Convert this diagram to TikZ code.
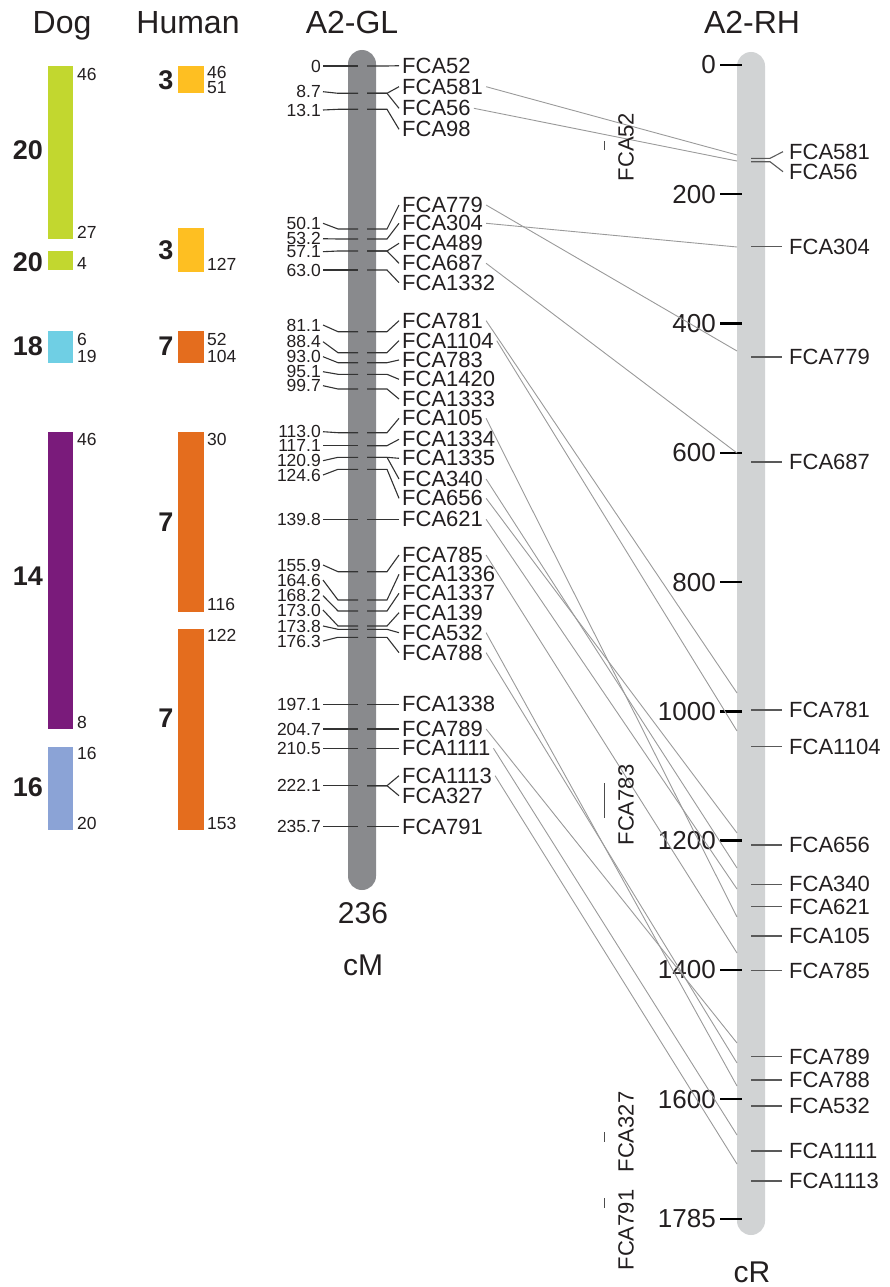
\documentclass[tikz,border=0pt]{standalone}
\usepackage{fontspec}
\setmainfont{Liberation Sans}
\definecolor{txt}{HTML}{231F20}
\definecolor{dgreen}{HTML}{C2D72F}
\definecolor{dcyan}{HTML}{6FCFE4}
\definecolor{dpurple}{HTML}{7A1B7B}
\definecolor{dblue}{HTML}{8BA3D6}
\definecolor{hyellow}{HTML}{FEBF22}
\definecolor{horange}{HTML}{E46D1E}
\definecolor{glgray}{HTML}{898A8D}
\definecolor{rhgray}{HTML}{D1D3D4}
\definecolor{conncol}{HTML}{9A9A9A}
\begin{document}
\begin{tikzpicture}[x=1pt,y=-1pt,
  title/.style={font=\fontsize{32}{32}\selectfont, text=txt, inner sep=0pt, anchor=base},
  big/.style={font=\fontsize{30}{30}\selectfont, text=txt, inner sep=0pt},
  chrnum/.style={font=\fontsize{27}{27}\selectfont\bfseries, text=txt, inner sep=0pt},
  num/.style={font=\fontsize{17.5}{17.5}\selectfont, text=txt, inner sep=0pt, anchor=west},
  fca/.style={font=\fontsize{22}{22}\selectfont, text=txt, inner sep=0pt, anchor=west},
  cml/.style={font=\fontsize{17.5}{17.5}\selectfont, text=txt, inner sep=0pt, anchor=east},
  scl/.style={font=\fontsize{26}{26}\selectfont, text=txt, inner sep=0pt, anchor=east},
  rot/.style={font=\fontsize{22}{22}\selectfont, text=txt, inner sep=0pt, rotate=90},
  gtick/.style={draw=black!80, line width=1.1pt},
  rtick/.style={draw=black!65, line width=1.1pt},
  stick/.style={draw=black, line width=2.4pt},
  conn/.style={draw=conncol, line width=0.9pt},
  ovl/.style={draw=black!70, line width=0.9pt}]
\useasboundingbox (0,0) rectangle (889,1287);

% titles
\node[title] (tdog) at (62,34) {Dog};
\node[title] (thum) at (188,34) {Human};
\node[title] (tgl) at (352,34) {A2-GL};
\node[title] (trh) at (752,34) {A2-RH};

% dog blocks
\fill[dgreen] (48,66) rectangle (73,239);
\fill[dgreen] (48,251) rectangle (73,270);
\fill[dcyan] (48,331) rectangle (73,363);
\fill[dpurple] (48,432) rectangle (73,729);
\fill[dblue] (48,747) rectangle (73,830);
\node[chrnum] (d1) at (28,150) {20};
\node[chrnum] (d2) at (28,262) {20};
\node[chrnum] (d3) at (28,346) {18};
\node[chrnum] (d4) at (28,576) {14};
\node[chrnum] (d5) at (28,787) {16};
\foreach \v/\y in {46/74,27/232,4/263,6/339,19/356,46/439,8/722,16/753,20/823}
  \node[num] at (77,\y) {\v};

% human blocks
\fill[hyellow] (178,66) rectangle (204,93);
\fill[hyellow] (178,228) rectangle (204,272);
\fill[horange] (178,331) rectangle (204,363);
\fill[horange] (178,432) rectangle (204,612);
\fill[horange] (178,629) rectangle (204,830);
\node[chrnum] (h1) at (166,80) {3};
\node[chrnum] (h2) at (166,250) {3};
\node[chrnum] (h3) at (166,346) {7};
\node[chrnum] (h4) at (166,522) {7};
\node[chrnum] (h5) at (166,718) {7};
\foreach \v/\y in {46/72,51/88,127/264,52/339,104/356,30/439,116/604,122/635,153/823}
  \node[num] at (207,\y) {\v};

% GL chromosome
\fill[glgray, rounded corners=14pt] (348,50) rectangle (376,890);
\node[big] (n236) at (363,913) {236};
\node[big] (ncm) at (363,965) {cM};

% GL left labels (cM)
\foreach \lab/\ly/\ty [count=\i] in {0/66/66, 8.7/91.7/93.3, 13.1/110/109.3,
  50.1/223.3/229, 53.2/238.7/239, 57.1/251.7/251, 63.0/270/270,
  81.1/325/331.7, 88.4/341.7/352.7, 93.0/356.7/362.7, 95.1/371.7/374.3, 99.7/385.7/389,
  113.0/431.7/432.7, 117.1/445.7/445.7, 120.9/460.7/457.3, 124.6/475/469.3,
  139.8/519.3/519.3, 155.9/565/571.7, 164.6/580/600, 168.2/595.7/611,
  173.0/610/626, 173.8/626/629.3, 176.3/641/637.3, 197.1/704.3/704.3,
  204.7/729/729, 210.5/748.3/748.3, 222.1/785.7/785.7, 235.7/826.7/826.7}{
  \node[cml] (cm\i) at (321,\ly) {\lab};
  \draw[gtick] ([xshift=2pt]cm\i.east) -- (338,\ty) -- (358,\ty);
}

% GL right labels (markers)
\foreach \n/\ly/\ty in {FCA52/65.7/66, FCA581/86.7/93.3, FCA56/108.3/93.3, FCA98/129.3/109.3,
  FCA779/205/229, FCA304/223.3/239, FCA489/243.3/251, FCA687/263.3/251, FCA1332/282.7/270,
  FCA781/320.7/331.7, FCA1104/340.7/352.7, FCA783/360/362.7, FCA1420/379.3/374.3,
  FCA1333/399/389, FCA105/418.3/432.7, FCA1334/439.3/445.7, FCA1335/458.3/457.3,
  FCA340/479/457.3, FCA656/498.3/469.3, FCA621/519.3/519.3, FCA785/555/571.7,
  FCA1336/574.3/600, FCA1337/593.3/611, FCA139/612.7/626, FCA532/632.7/629.3,
  FCA788/652.7/637.3, FCA1338/704.3/704.3, FCA789/729/729, FCA1111/748.3/748.3,
  FCA1113/775.7/785.7, FCA327/795.7/785.7, FCA791/826.7/826.7}{
  \node[fca] (g\n) at (402,\ly) {\n};
  \draw[gtick] (367,\ty) -- (387,\ty) -- ([xshift=-3pt]g\n.west);
}

% RH chromosome
\fill[rhgray, rounded corners=14pt] (737,52) rectangle (765,1235);
\node[big] (ncr) at (752,1272) {cR};

% RH scale
\foreach \v in {0,200,400,600,800,1000,1200,1400,1600,1785}{
  \pgfmathsetmacro{\yy}{65+0.6464*\v}
  \node[scl] (s\v) at (716,\yy) {\v};
  \draw[stick] ([xshift=4pt]s\v.east) -- ++(22,0);
}

% RH markers
\node[fca] (rFCA581) at (789,151.7) {FCA581};
\node[fca] (rFCA56) at (789,171.7) {FCA56};
\draw[rtick] (751,158.3) -- (770,158.3) -- ([xshift=-6pt]rFCA581.west);
\draw[rtick] (751,161.7) -- (770,161.7) -- ([xshift=-6pt]rFCA56.west);
\foreach \n/\y in {FCA304/246.7, FCA779/357, FCA687/462, FCA781/710, FCA1104/746.7,
  FCA656/845, FCA340/884.3, FCA621/906.7, FCA105/936, FCA785/970.7, FCA789/1056.7,
  FCA788/1080, FCA532/1106, FCA1111/1151, FCA1113/1181}{
  \node[fca] (r\n) at (789,\y) {\n};
  \draw[rtick] (751,\y) -- ([xshift=-7pt]r\n.west);
}

% connectors GL -> RH
\foreach \n/\ey in {FCA581/155, FCA56/161, FCA304/247, FCA779/351, FCA687/453,
  FCA781/693, FCA1104/731, FCA656/833, FCA340/868, FCA621/889, FCA105/917,
  FCA785/953, FCA789/1043, FCA788/1063, FCA532/1086, FCA1111/1135, FCA1113/1164}{
  \coordinate (e\n) at (737,\ey);
  \draw[conn] ([xshift=3pt]g\n.east) -- (e\n);
}

% unmapped markers (rotated)
\node[rot] (uFCA52) at (626,147) {FCA52};
\node[rot] (uFCA783) at (626,805) {FCA783};
\node[rot] (uFCA327) at (626,1132) {FCA327};
\node[rot] (uFCA791) at (626,1230) {FCA791};
\draw[ovl] (604,141) -- (604,150);
\draw[ovl] (604,783) -- (604,818);
\draw[ovl] (604,1132) -- (604,1142);
\draw[ovl] (604,1198) -- (604,1208);
\end{tikzpicture}
\end{document}
